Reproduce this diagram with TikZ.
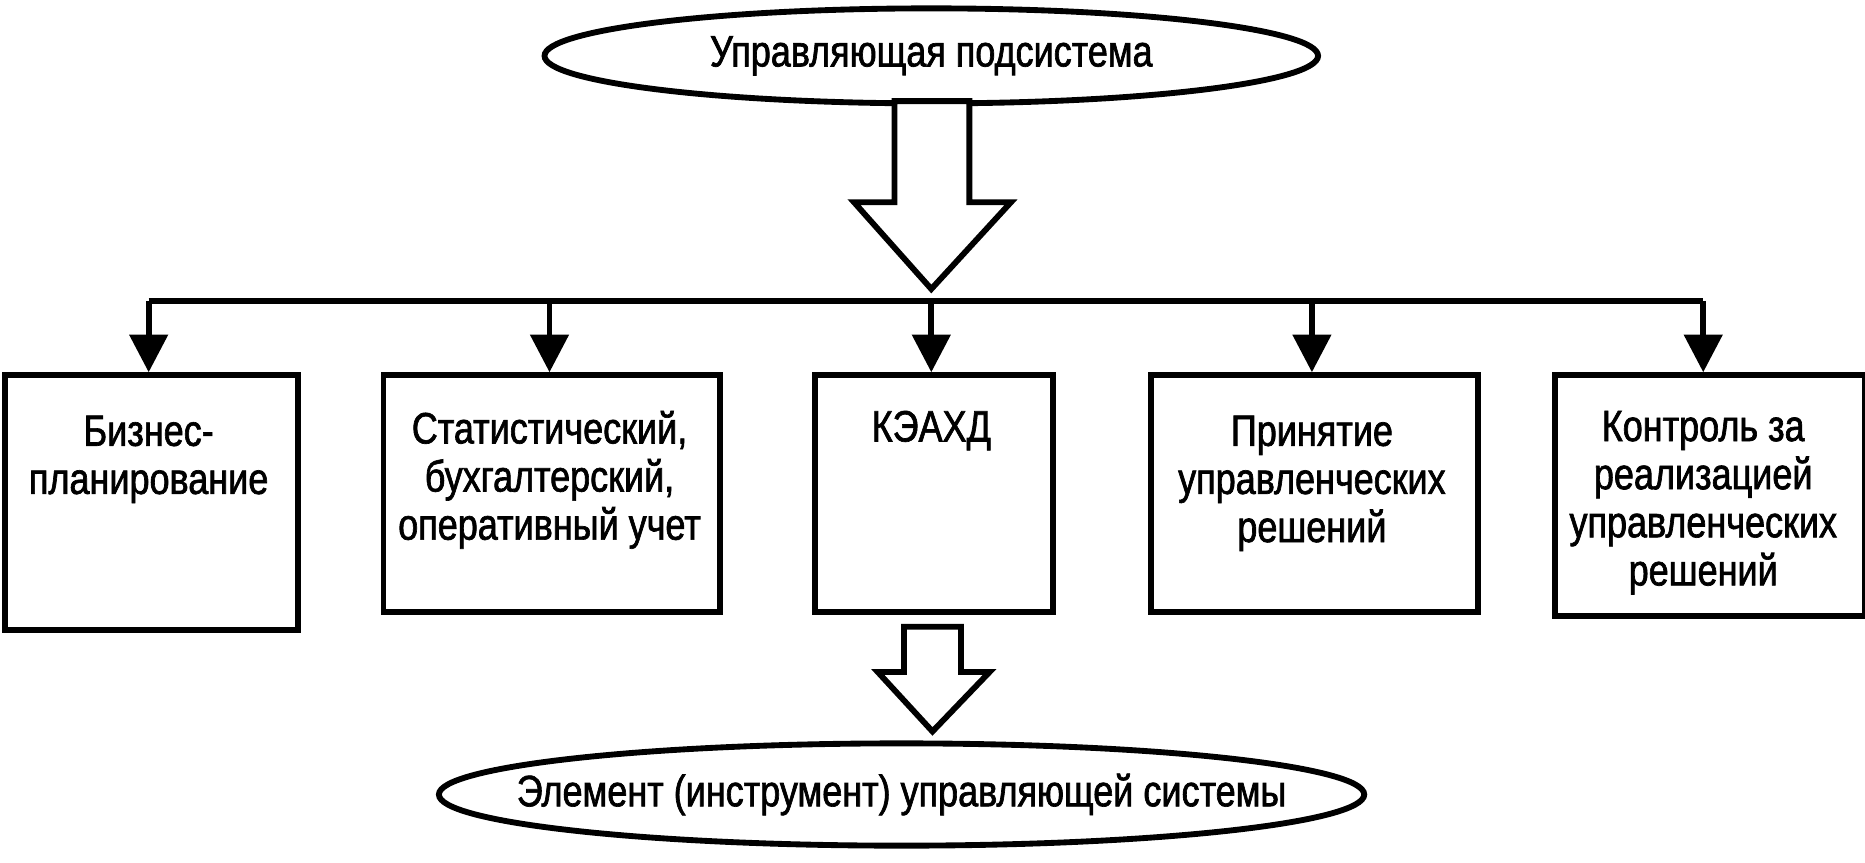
\documentclass[tikz,border=0pt]{standalone}
\usepackage{fontspec}
\setmainfont{Liberation Sans}[FakeStretch=0.82,FakeBold=1.5]
\usetikzlibrary{shapes.geometric,arrows.meta}
\begin{document}
\begin{tikzpicture}[x=0.01cm,y=-0.01cm,
  box/.style={draw,line width=1.4pt,inner sep=0pt},
  lbl/.style={font=\fontsize{10.5}{11.5}\selectfont,align=center,anchor=north},
  ar/.style={line width=1.4pt,-{Triangle[length=9pt,width=9pt]}},
  hollow/.style={draw,line width=1.4pt,fill=white,line join=miter}]
\useasboundingbox (0,0) rectangle (1568,725);
\node[draw,ellipse,line width=1.4pt,minimum width=6.5cm,minimum height=0.7cm,font=\fontsize{10.5}{12}\selectfont] (top) at (783,47) {Управляющая подсистема};
\draw[hollow] (752,85) -- (815,85) -- (815,170) -- (850,170) -- (783,243) -- (718,170) -- (752,170) -- cycle;
\coordinate (hl) at (125,253); \coordinate (hr) at (1432,253);
\draw[line width=1.4pt] (hl) -- (hr);
\node[box,minimum width=2.46cm,minimum height=2.14cm,anchor=north west] (b1) at (2,313) {};
\node[box,minimum width=2.83cm,minimum height=1.99cm,anchor=north west] (b2) at (320,313) {};
\node[box,minimum width=2.0cm,minimum height=1.99cm,anchor=north west] (b3) at (683,313) {};
\node[box,minimum width=2.75cm,minimum height=1.99cm,anchor=north west] (b4) at (965,313) {};
\node[box,minimum width=2.60cm,minimum height=2.02cm,anchor=north west] (b5) at (1305,313) {};
\foreach \x/\b in {125/b1,462/b2,783/b3,1103/b4,1432/b5}
  \draw[ar] (\x,253) -- (\x,313);
\node[lbl] (t1) at (125,337) {Бизнес-\\планирование};
\node[lbl] (t2) at (462,333) {Статистический,\\бухгалтерский,\\оперативный учет};
\node[lbl] (t3) at (783,333) {КЭАХД};
\node[lbl] (t4) at (1103,337) {Принятие\\управленческих\\решений};
\node[lbl] (t5) at (1432,333) {Контроль за\\реализацией\\управленческих\\решений};
\draw[hollow] (760,527) -- (808,527) -- (808,565) -- (832,565) -- (784,615) -- (738,565) -- (760,565) -- cycle;
\node[font=\fontsize{10.5}{12}\selectfont] (bot) at (758,668) {Элемент (инструмент) управляющей системы};
\draw[line width=1.4pt] (bot.center) ellipse [x radius=389, y radius=-43];
\end{tikzpicture}
\end{document}
